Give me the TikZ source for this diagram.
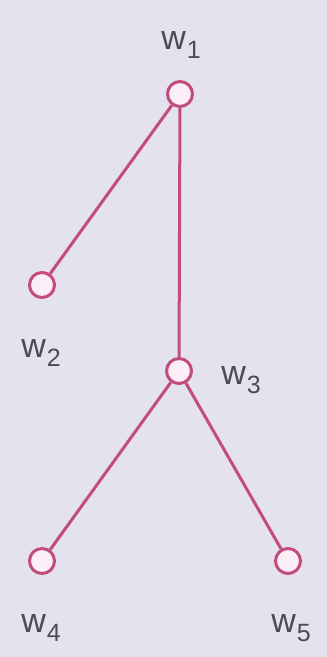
\documentclass[tikz,border=0pt]{standalone}
\usepackage{fontspec}
\setmainfont{Liberation Sans}
\definecolor{bgc}{HTML}{E4E2EE}
\definecolor{edgec}{HTML}{C24C7C}
\definecolor{fillc}{HTML}{FCEEF6}
\definecolor{txtc}{HTML}{4A4A58}
\newcommand{\wlab}[1]{w\kern1pt\raisebox{-9pt}{\fontsize{25}{25}\selectfont #1}}
\tikzset{
  vert/.style={circle, draw=edgec, fill=fillc, line width=3pt, minimum size=25pt, inner sep=0pt},
  edgeline/.style={draw=edgec, line width=3pt},
  lab/.style={text=txtc, font=\fontsize{34}{34}\selectfont, inner sep=0pt, anchor=center}
}
\begin{document}
\begin{tikzpicture}[x=1pt,y=-1pt]
\fill[bgc] (0,0) rectangle (327,657);
\useasboundingbox (0,0) rectangle (327,657);
\node[vert] (w1) at (180,94) {};
\node[vert] (w2) at (42,285) {};
\node[vert] (w3) at (179,371) {};
\node[vert] (w4) at (42,561) {};
\node[vert] (w5) at (288,561) {};
\draw[edgeline] (w1) -- (w2);
\draw[edgeline] (w1) -- (w3);
\draw[edgeline] (w3) -- (w4);
\draw[edgeline] (w3) -- (w5);
\node[lab] (l1) at (181,45) {\wlab{1}};
\node[lab] (l2) at (41,353) {\wlab{2}};
\node[lab] (l3) at (241,380) {\wlab{3}};
\node[lab] (l4) at (41,628) {\wlab{4}};
\node[lab] (l5) at (291,628) {\wlab{5}};
\end{tikzpicture}
\end{document}
